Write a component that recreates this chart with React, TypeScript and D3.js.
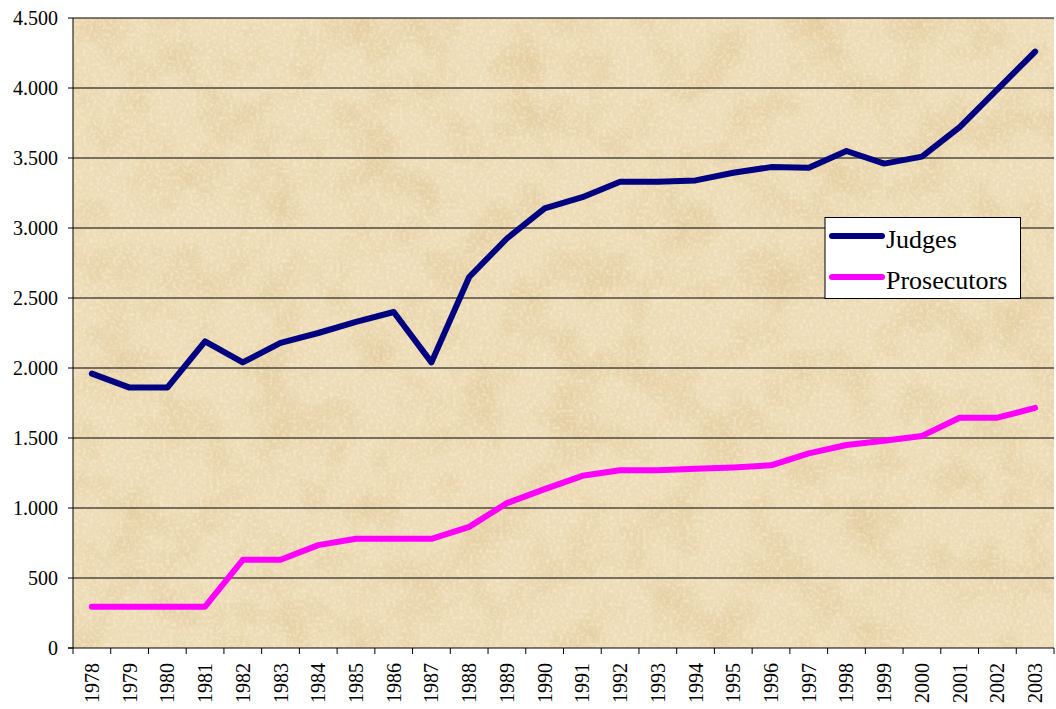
import React from "react";
import * as d3 from "d3";

const years = ["1978","1979","1980","1981","1982","1983","1984","1985","1986","1987","1988","1989","1990","1991","1992","1993","1994","1995","1996","1997","1998","1999","2000","2001","2002","2003"];
const judges = [1960,1860,1860,2190,2040,2180,2250,2330,2400,2040,2650,2925,3140,3220,3330,3330,3340,3395,3435,3430,3550,3460,3510,3720,3990,4260];
const prosecutors = [295,295,295,295,630,630,735,780,780,780,865,1035,1135,1230,1270,1270,1280,1290,1305,1390,1450,1480,1515,1645,1645,1715];
const yTicks = [0,500,1000,1500,2000,2500,3000,3500,4000,4500];
const seriesNames = ["Judges","Prosecutors"];
const seriesColors = ["#000080","#FF00FF"];

const FONT = "Liberation Serif";

export default function App() {
  const left = 73, right = 1054, top = 18, bottom = 648;
  const x = d3.scaleBand<string>().domain(years).range([left, right]).padding(0);
  const y = d3.scaleLinear().domain([0, 4500]).range([bottom, top]);
  const cx = (i: number) => (x(years[i]) as number) + x.bandwidth() / 2;
  const line = d3.line<number>().x((_, i) => cx(i)).y((d) => y(d));
  const fmt = (v: number) => d3.format(",")(v).replace(/,/g, ".");
  const series = [judges, prosecutors];
  const boundaries = years.map((yr) => x(yr) as number).concat([right]);

  return (
    <svg width={1056} height={709} style={{ position: "absolute", left: 0, top: 0, background: "#fff" }}>
      <defs>
        <filter id="parch" x="0" y="0" width="100%" height="100%" colorInterpolationFilters="sRGB">
          <feTurbulence type="fractalNoise" baseFrequency="0.02" numOctaves={4} seed={7} result="n" />
          <feColorMatrix in="n" type="matrix"
            values="0 0 0 0 0.82  0 0 0 0 0.68  0 0 0 0 0.45  2.0 0 0 0 -0.85" result="c" />
          <feComposite in="c" in2="SourceGraphic" operator="in" />
        </filter>
        <filter id="speck" x="0" y="0" width="100%" height="100%" colorInterpolationFilters="sRGB">
          <feTurbulence type="fractalNoise" baseFrequency="0.3" numOctaves={2} seed={3} result="n" />
          <feColorMatrix in="n" type="matrix"
            values="0 0 0 0 1  0 0 0 0 0.97  0 0 0 0 0.88  2.5 0 0 0 -1.1" result="c" />
          <feComposite in="c" in2="SourceGraphic" operator="in" />
        </filter>
      </defs>
      <rect x={left} y={top} width={right - left} height={bottom - top} fill="#EDDCB7" />
      <rect x={left} y={top} width={right - left} height={bottom - top} fill="#000" filter="url(#parch)" opacity={0.35} />
      <rect x={left} y={top} width={right - left} height={bottom - top} fill="#000" filter="url(#speck)" opacity={0.45} />

      {yTicks.filter((t) => t > 0).map((t) => (
        <line key={"g" + t} x1={left} x2={right} y1={y(t)} y2={y(t)} stroke="#000" strokeWidth={1} />
      ))}
      <line x1={left} x2={left} y1={top} y2={bottom} stroke="#000" strokeWidth={1} />
      <line x1={left - 5} x2={right} y1={bottom} y2={bottom} stroke="#000" strokeWidth={1} />
      {yTicks.map((t) => (
        <g key={"yt" + t}>
          <line x1={left - 5} x2={left} y1={y(t)} y2={y(t)} stroke="#000" />
          <text x={58} y={y(t)} dy="0.35em" textAnchor="end" fontFamily={FONT} fontSize={20} fill="#000">{fmt(t)}</text>
        </g>
      ))}
      {boundaries.map((b, i) => (
        <line key={"xt" + i} x1={b} x2={b} y1={bottom} y2={bottom + 6} stroke="#000" />
      ))}
      {years.map((yr, i) => (
        <text key={"xl" + yr} transform={`translate(${cx(i) + 7},${663}) rotate(-90)`} textAnchor="end"
          fontFamily={FONT} fontSize={20} fill="#000">{yr}</text>
      ))}

      {series.map((s, k) => (
        <path key={"s" + k} d={line(s) as string} fill="none" stroke={seriesColors[k]} strokeWidth={6}
          strokeLinejoin="round" strokeLinecap="round" />
      ))}

      <rect x={825} y={217.5} width={195.5} height={81} fill="#fff" stroke="#000" strokeWidth={1} />
      {seriesNames.map((n, k) => (
        <g key={"lg" + n}>
          <line x1={832} x2={882} y1={236 + k * 41} y2={236 + k * 41} stroke={seriesColors[k]} strokeWidth={6} strokeLinecap="round" />
          <text x={886} y={248 + k * 41} fontFamily={FONT} fontSize={26} fill="#000">{n}</text>
        </g>
      ))}
    </svg>
  );
}
